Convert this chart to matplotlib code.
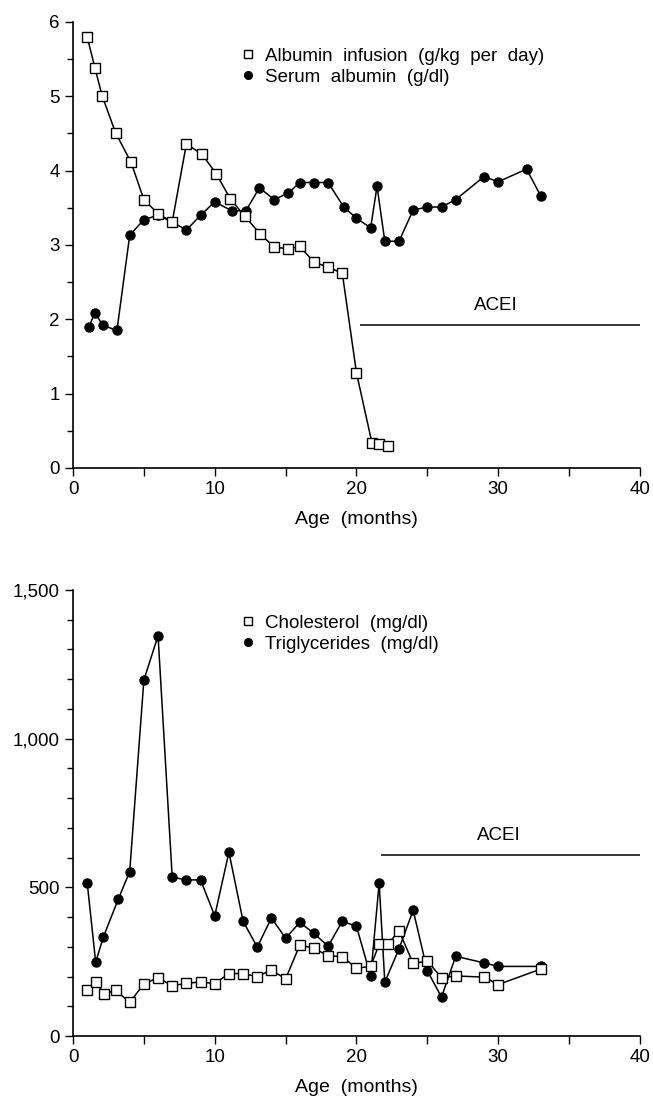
import numpy as np
import matplotlib.pyplot as plt
from matplotlib.ticker import MultipleLocator, FuncFormatter

plt.rcParams['font.family'] = ['Liberation Sans', 'DejaVu Sans']
plt.rcParams['font.size'] = 13.5

# top panel: albumin
inf_age = [1, 1.55, 2.05, 3, 4.1, 5, 6, 7, 8, 9.1, 10.1, 11.1, 12.1, 13.2, 14.2, 15.15, 16,
           17, 18, 19, 20, 21.1, 21.6, 22.2]
inf_val = [5.80, 5.38, 5.01, 4.51, 4.11, 3.61, 3.42, 3.31, 4.36, 4.22, 3.96, 3.62, 3.39, 3.15,
           2.97, 2.95, 2.98, 2.77, 2.70, 2.62, 1.28, 0.33, 0.32, 0.30]

ser_age = [1.1, 1.55, 2.1, 3.1, 4, 5, 6, 7, 8, 9, 10, 11.2, 12.2, 13.15, 14.2, 15.2, 16, 17, 18,
           19.1, 20, 21, 21.45, 22, 23, 24, 25, 26, 27, 29, 30, 32, 33]
ser_val = [1.89, 2.09, 1.92, 1.85, 3.13, 3.34, 3.40, 3.31, 3.20, 3.40, 3.58, 3.46, 3.46, 3.77,
           3.61, 3.70, 3.84, 3.84, 3.84, 3.51, 3.36, 3.23, 3.79, 3.05, 3.05, 3.47, 3.51, 3.51,
           3.61, 3.92, 3.85, 4.02, 3.66]

# bottom panel: lipids
chol_age = [1, 1.6, 2.2, 3, 4, 5, 6, 7, 8, 9, 10, 11, 12, 13, 14, 15, 16, 17, 18, 19, 20, 21,
            21.6, 22.2, 23, 24, 25, 26, 27, 29, 30, 33]
chol_val = [155, 183, 141, 154, 113, 175, 196, 169, 177, 182, 176, 210, 210, 200, 222, 192, 306,
            295, 270, 267, 228, 234, 308, 308, 354, 244, 252, 196, 202, 198, 173, 225]

tg_age = [1, 1.6, 2.15, 3.2, 4, 5, 6, 7, 8, 9, 10, 11, 12, 13, 14, 15, 16, 17, 18, 19, 20, 21,
          21.6, 22, 23, 24, 25, 26, 27, 29, 30, 33]
tg_val = [516, 248, 334, 461, 553, 1197, 1346, 534, 525, 525, 404, 618, 386, 299, 397, 329, 382,
          345, 302, 386, 369, 201, 514, 181, 293, 423, 219, 131, 268, 246, 234, 234]

acei_top = (20.25, 40, 1.92)
acei_bot = (21.7, 40, 609)

fig = plt.figure(figsize=(6.53, 10.97), dpi=100)
ax1 = fig.add_axes([0.1118, 0.5734, 0.8682, 0.4066])
ax2 = fig.add_axes([0.1118, 0.0556, 0.8682, 0.4066])

def style(ax):
    for s in ['top', 'right']:
        ax.spines[s].set_visible(False)
    for s in ['left', 'bottom']:
        ax.spines[s].set_linewidth(1.2)
    ax.set_xlim(0, 40)
    ax.xaxis.set_major_locator(MultipleLocator(10))
    ax.xaxis.set_minor_locator(MultipleLocator(5))
    ax.tick_params(which='both', direction='out', width=1.0)
    ax.tick_params(axis='x', which='both', length=6)
    ax.tick_params(axis='y', which='major', length=6)
    ax.tick_params(axis='y', which='minor', length=4)
    ax.set_xlabel('Age  (months)', labelpad=9, fontsize=14)

def legend(ax, y):
    h, l = ax.get_legend_handles_labels()
    leg = ax.legend(h[::-1], l[::-1], loc='upper left', bbox_to_anchor=(0.285, y), frameon=False,
                    handlelength=0.6, handletextpad=0.6, labelspacing=0.2, fontsize=13.5,
                    markerscale=0.85, borderaxespad=0)
    for hd in leg.legend_handles:
        hd.set_linestyle('none')

# top
ax1.plot(ser_age, ser_val, '-o', color='k', lw=1.1, ms=6.5, mfc='k', mec='k',
         label='Serum  albumin  (g/dl)', zorder=2)
ax1.plot(inf_age, inf_val, '-s', color='k', lw=1.1, ms=6.5, mfc='white', mec='k', mew=1.0,
         label='Albumin  infusion  (g/kg  per  day)', zorder=3)
ax1.set_ylim(0, 6)
ax1.yaxis.set_major_locator(MultipleLocator(1))
ax1.yaxis.set_minor_locator(MultipleLocator(0.5))
ax1.hlines(acei_top[2], acei_top[0], acei_top[1], color='k', lw=1.1)
ax1.text((acei_top[0] + acei_top[1]) / 2 - 0.3, acei_top[2] + 0.15, 'ACEI', ha='center', va='bottom')
style(ax1)
legend(ax1, 0.959)

# bottom
ax2.plot(tg_age, tg_val, '-o', color='k', lw=1.1, ms=6.5, mfc='k', mec='k',
         label='Triglycerides  (mg/dl)', zorder=2)
ax2.plot(chol_age, chol_val, '-s', color='k', lw=1.1, ms=6.5, mfc='white', mec='k', mew=1.0,
         label='Cholesterol  (mg/dl)', zorder=3)
ax2.set_ylim(0, 1500)
ax2.yaxis.set_major_locator(MultipleLocator(500))
ax2.yaxis.set_minor_locator(MultipleLocator(100))
ax2.yaxis.set_major_formatter(FuncFormatter(lambda v, p: f'{v:,.0f}'))
ax2.hlines(acei_bot[2], acei_bot[0], acei_bot[1], color='k', lw=1.1)
ax2.text((acei_bot[0] + acei_bot[1]) / 2 - 0.8, acei_bot[2] + 38, 'ACEI', ha='center', va='bottom')
style(ax2)
legend(ax2, 0.961)

fig.savefig('out.png', dpi=100)
